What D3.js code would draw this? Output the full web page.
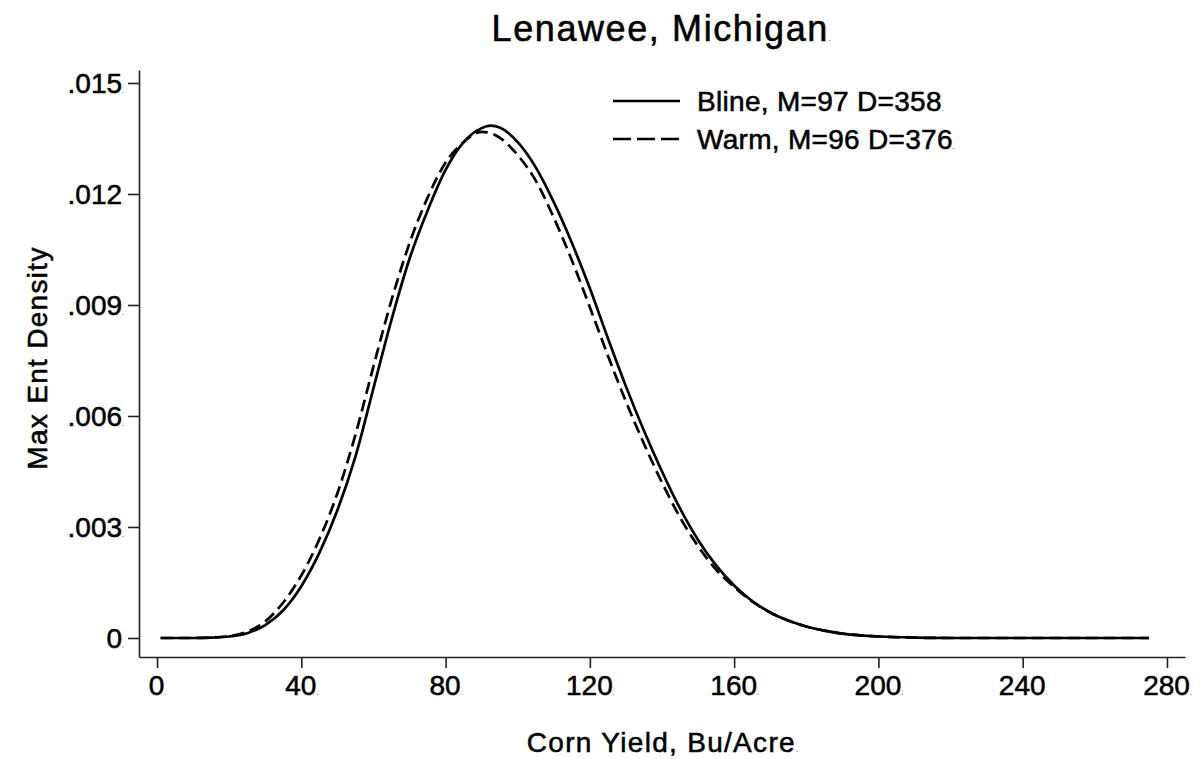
<!DOCTYPE html>
<html lang="en">
<head>
<meta charset="utf-8">
<title>Lenawee, Michigan</title>
<script src="https://d3js.org/d3.v7.min.js"></script>
<style>
  body { margin: 0; background: #fff; }
  svg { display: block; font-family: "Liberation Sans", Arial, Helvetica, sans-serif; }
  text { fill: #000; stroke: #000; stroke-width: 0.55px; }
  .dot { font-size: 7px; }
</style>
</head>
<body>
<script>
// corn yield grid (Bu/Acre)
var yieldX = [1, 10, 15, 20, 25, 30, 35, 40, 45, 50, 55, 60, 65, 70, 75, 80, 85, 90, 92.5, 95,
              100, 105, 110, 115, 120, 125, 130, 135, 140, 145, 150, 155, 160, 165, 170, 175,
              180, 185, 190, 195, 200, 210, 220, 240, 260, 275];
// baseline density
var blineY = [0, 0, 0.00001, 0.00004, 0.00013, 0.00035, 0.00075, 0.0014, 0.0023, 0.00345, 0.0049,
              0.00675, 0.0086, 0.01025, 0.01155, 0.01265, 0.0134, 0.01378, 0.01385, 0.0138,
              0.0134, 0.01272, 0.01178, 0.01068, 0.00945, 0.0081, 0.0068, 0.0056, 0.0045, 0.0035,
              0.00265, 0.00196, 0.00142, 0.001, 0.00069, 0.00047,
              0.00031, 0.0002, 0.00012, 0.00007, 0.00004, 0.00001, 0, 0, 0, 0];
// warming scenario density
var warmY  = [0, 0, 0.00001, 0.00005, 0.00017, 0.00045, 0.00096, 0.00169, 0.00267, 0.00391, 0.00549,
              0.00734, 0.00913, 0.01067, 0.0119, 0.01285, 0.0134, 0.01368, 0.01364, 0.01352,
              0.01305, 0.01236, 0.01136, 0.01021, 0.00894, 0.00763, 0.00639, 0.00525, 0.0042, 0.00326,
              0.00248, 0.00185, 0.00138, 0.00099, 0.00069, 0.00047,
              0.00031, 0.0002, 0.00012, 0.00007, 0.00004, 0.00001, 0, 0, 0, 0];

var xTicks = [0, 40, 80, 120, 160, 200, 240, 280];
var xTickLabels = ["0", "40", "80", "120", "160", "200", "240", "280"];
var yTicks = [0, 0.003, 0.006, 0.009, 0.012, 0.015];
var yTickLabels = ["0", ".003", ".006", ".009", ".012", ".015"];
var seriesNames = ["Bline, M=97 D=358", "Warm, M=96 D=376"];

var W = 1202, H = 759;
var svg = d3.select("body").append("svg").attr("width", W).attr("height", H);

var x = d3.scaleLinear().domain([-5, 285]).range([139, 1185]);
var y = d3.scaleLinear().domain([-0.000514, 0.015351]).range([657, 70]);

function addDot(sel) {
  sel.append("tspan").attr("class", "dot").attr("stroke-width", 0).text(".");
}

// title
var t = svg.append("text").attr("x", 662).attr("y", 41).attr("text-anchor", "middle")
  .attr("font-size", 36).attr("letter-spacing", 1.6).text("Lenawee, Michigan");
addDot(t);

// axes
var ax = svg.append("g").attr("transform", "translate(0,657)")
  .call(d3.axisBottom(x).tickValues(xTicks).tickSize(11).tickSizeOuter(0)
        .tickFormat(function(d, i) { return xTickLabels[i]; }));
var ay = svg.append("g").attr("transform", "translate(139,0)")
  .call(d3.axisLeft(y).tickValues(yTicks).tickSize(11).tickSizeOuter(0)
        .tickFormat(function(d, i) { return yTickLabels[i]; }));

[ax, ay].forEach(function(g) {
  g.select(".domain").attr("stroke", "#222").attr("stroke-width", 1.6);
  g.selectAll(".tick line").attr("stroke", "#222").attr("stroke-width", 1.6);
  g.selectAll(".tick text").attr("font-size", 28).attr("fill", "#000")
    .attr("font-family", "Liberation Sans, Arial, sans-serif")
    .each(function() { addDot(d3.select(this)); });
});
ax.selectAll(".tick text").attr("y", 18).attr("dy", "0.71em");
ay.selectAll(".tick text").attr("x", -15).attr("dy", "0.35em");

// axis titles
var xt = svg.append("text").attr("x", 663).attr("y", 752).attr("text-anchor", "middle")
  .attr("font-size", 28).attr("letter-spacing", 1.3).text("Corn Yield, Bu/Acre");
addDot(xt);
svg.append("text").attr("transform", "translate(47,358) rotate(-90)")
  .attr("text-anchor", "middle").attr("font-size", 28).attr("letter-spacing", 1.3)
  .text("Max Ent Density");

// curves
var line = d3.line().curve(d3.curveMonotoneX)
  .x(function(d) { return x(d[0]); }).y(function(d) { return y(d[1]); });

svg.append("path").datum(d3.zip(yieldX, warmY))
  .attr("d", line).attr("fill", "none").attr("stroke", "#000")
  .attr("stroke-width", 2.7).attr("stroke-dasharray", "12,6");
svg.append("path").datum(d3.zip(yieldX, blineY))
  .attr("d", line).attr("fill", "none").attr("stroke", "#000")
  .attr("stroke-width", 2.7);

// legend
var leg = svg.append("g");
seriesNames.forEach(function(name, i) {
  var ly = 101 + i * 38;
  leg.append("line").attr("x1", 613).attr("x2", 680).attr("y1", ly).attr("y2", ly)
    .attr("stroke", "#000").attr("stroke-width", 2.5)
    .attr("stroke-dasharray", i === 1 ? "18,6" : null);
  var lt = leg.append("text").attr("x", 697).attr("y", ly + 10).attr("font-size", 28)
    .attr("letter-spacing", 0.3).text(name);
  addDot(lt);
});
</script>
</body>
</html>
